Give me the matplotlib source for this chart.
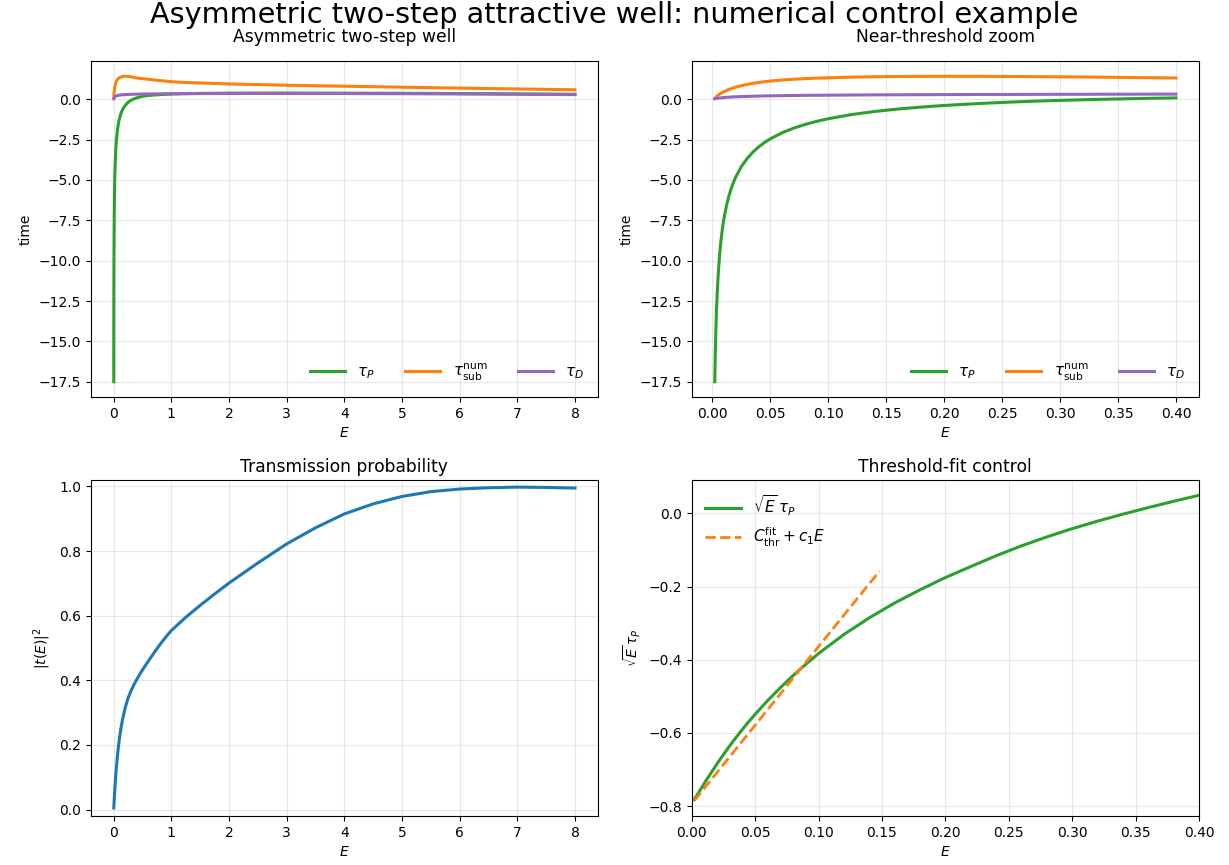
import matplotlib
matplotlib.use("Agg")
import matplotlib.pyplot as plt

# near-threshold grid
E_near = [0.002, 0.0025, 0.003, 0.0035, 0.004, 0.005, 0.006, 0.007, 0.008,
          0.009, 0.010, 0.012, 0.014, 0.016, 0.018, 0.020, 0.025, 0.030,
          0.035, 0.040, 0.045, 0.050, 0.06, 0.07, 0.08, 0.09, 0.10, 0.12,
          0.14, 0.16, 0.18, 0.20, 0.22, 0.24, 0.26, 0.28, 0.30, 0.32, 0.34,
          0.36, 0.38, 0.40]
tau_P_near = [-17.49, -15.58, -14.17, -13.08, -12.19, -10.82, -9.81, -9.01,
              -8.36, -7.83, -7.37, -6.63, -6.05, -5.57, -5.18, -4.84, -4.17,
              -3.67, -3.27, -2.95, -2.68, -2.455, -2.086, -1.799, -1.566,
              -1.373, -1.211, -0.956, -0.763, -0.6125, -0.493, -0.392,
              -0.310, -0.237, -0.1745, -0.122, -0.0767, -0.038, -0.0041,
              0.026, 0.0532, 0.0778]
tau_sub_near = [0.05, 0.09, 0.13, 0.16, 0.19, 0.25, 0.30, 0.35, 0.39, 0.43,
                0.46, 0.53, 0.59, 0.65, 0.70, 0.74, 0.83, 0.91, 0.98, 1.03,
                1.08, 1.12, 1.18, 1.23, 1.27, 1.30, 1.32, 1.36, 1.385, 1.40,
                1.41, 1.415, 1.415, 1.41, 1.40, 1.39, 1.38, 1.37, 1.355,
                1.34, 1.325, 1.31]
tau_D_near = [0.02, 0.03, 0.04, 0.045, 0.05, 0.06, 0.07, 0.08, 0.085, 0.09,
              0.10, 0.11, 0.12, 0.13, 0.14, 0.145, 0.16, 0.17, 0.18, 0.19,
              0.20, 0.205, 0.215, 0.225, 0.235, 0.24, 0.245, 0.255, 0.265,
              0.27, 0.275, 0.28, 0.285, 0.29, 0.29, 0.295, 0.30, 0.30,
              0.305, 0.305, 0.31, 0.31]

# higher energies for the full-range panel
E_tail = [0.5, 0.6, 0.8, 1.0, 1.25, 1.5, 2.0, 3.0, 4.0, 5.0, 6.0, 7.0, 8.0]
tau_P_tail = [0.18, 0.225, 0.28, 0.315, 0.34, 0.355, 0.37, 0.375, 0.37,
              0.36, 0.345, 0.325, 0.30]
tau_sub_tail = [1.27, 1.23, 1.15, 1.08, 1.03, 1.00, 0.94, 0.86, 0.80, 0.74,
                0.68, 0.63, 0.58]
tau_D_tail = [0.315, 0.32, 0.33, 0.335, 0.34, 0.345, 0.35, 0.35, 0.345,
              0.335, 0.32, 0.30, 0.28]

# transmission probability
E_T = [0.002, 0.01, 0.02, 0.03, 0.04, 0.05, 0.06, 0.08, 0.10, 0.125, 0.15,
       0.2, 0.25, 0.3, 0.35, 0.4, 0.45, 0.5, 0.6, 0.7, 0.8, 0.9, 1.0, 1.25,
       1.5, 1.75, 2.0, 2.5, 3.0, 3.5, 4.0, 4.5, 5.0, 5.5, 6.0, 6.5, 7.0,
       7.5, 8.0]
T_E = [0.005, 0.03, 0.06, 0.09, 0.115, 0.135, 0.155, 0.19, 0.22, 0.25,
       0.275, 0.315, 0.345, 0.367, 0.386, 0.402, 0.418, 0.432, 0.459, 0.485,
       0.51, 0.533, 0.554, 0.595, 0.632, 0.667, 0.701, 0.763, 0.822,
       0.872, 0.915, 0.946, 0.969, 0.984, 0.992, 0.996, 0.998, 0.997,
       0.995]

# threshold fit control: sqrt(E)*tau_P on E_near, and the linear fit
sqrtE_tauP = [-0.782, -0.779, -0.776, -0.774, -0.771, -0.765, -0.760,
              -0.754, -0.748, -0.743, -0.737, -0.726, -0.716, -0.705,
              -0.695, -0.684, -0.659, -0.635, -0.612, -0.590, -0.569,
              -0.549, -0.511, -0.476, -0.443, -0.412, -0.383, -0.331,
              -0.2855, -0.245, -0.209, -0.1755, -0.1455, -0.116, -0.089,
              -0.0645, -0.042, -0.0215, -0.0024, 0.0156, 0.0328, 0.0492]
E_fit = [0.002, 0.148]
fit_line = [-0.785, -0.158]

E_full = E_near + E_tail
tau_P_full = tau_P_near + tau_P_tail
tau_sub_full = tau_sub_near + tau_sub_tail
tau_D_full = tau_D_near + tau_D_tail

fig, axs = plt.subplots(2, 2, figsize=(12.29, 8.65), dpi=100)
W, H = 1229.0, 865.0
pos = {(0, 0): (90.7, 397), (0, 1): (691.7, 397),
       (1, 0): (90.7, 816), (1, 1): (691.7, 816)}
for (r, c), (x0, yb) in pos.items():
    axs[r, c].set_position([x0 / W, 1 - yb / H, 507.3 / W, 336 / H])

lw = 2.2
labels = [r"$\tau_P$", r"$\tau_{\rm sub}^{\rm num}$", r"$\tau_D$"]
leg_kw = dict(frameon=False, fontsize=11, handlelength=2.3)

# top left: full range
ax = axs[0, 0]
ax.plot(E_full, tau_P_full, color="C2", lw=lw, label=labels[0])
ax.plot(E_full, tau_sub_full, color="C1", lw=lw, label=labels[1])
ax.plot(E_full, tau_D_full, color="C4", lw=lw, label=labels[2])
ax.set_title("Asymmetric two-step well", fontsize=12.3, pad=14)
ax.set_xlabel(r"$E$")
ax.set_ylabel("time")
ax.grid(True, alpha=0.3)
ax.legend(loc="lower right", ncol=3, **leg_kw)

# top right: zoom
ax = axs[0, 1]
ax.plot(E_near, tau_P_near, color="C2", lw=lw, label=labels[0])
ax.plot(E_near, tau_sub_near, color="C1", lw=lw, label=labels[1])
ax.plot(E_near, tau_D_near, color="C4", lw=lw, label=labels[2])
ax.set_title("Near-threshold zoom", fontsize=12.3, pad=14)
ax.set_xlabel(r"$E$")
ax.set_ylabel("time")
ax.grid(True, alpha=0.3)
ax.legend(loc="lower right", ncol=3, **leg_kw)

# bottom left: transmission
ax = axs[1, 0]
ax.plot(E_T, T_E, color="C0", lw=lw)
ax.set_ylim(-0.02, 1.02)
ax.set_title("Transmission probability", fontsize=12.3)
ax.set_xlabel(r"$E$")
ax.set_ylabel(r"$|t(E)|^2$")
ax.grid(True, alpha=0.3)

# bottom right: threshold fit
ax = axs[1, 1]
ax.plot(E_near, sqrtE_tauP, color="C2", lw=lw, label=r"$\sqrt{E}\,\tau_P$")
ax.plot(E_fit, fit_line, color="C1", lw=2, ls="--",
        label=r"$C_{\rm thr}^{\rm fit}+c_1E$")
ax.set_xlim(0, 0.4)
ax.set_title("Threshold-fit control", fontsize=12.3)
ax.set_xlabel(r"$E$")
ax.set_ylabel(r"$\sqrt{E}\,\tau_P$")
ax.grid(True, alpha=0.3)
ax.legend(loc="upper left", **leg_kw)

fig.suptitle("Asymmetric two-step attractive well: numerical control example",
             fontsize=20.7, y=0.999)

fig.savefig("out.png", dpi=100)
